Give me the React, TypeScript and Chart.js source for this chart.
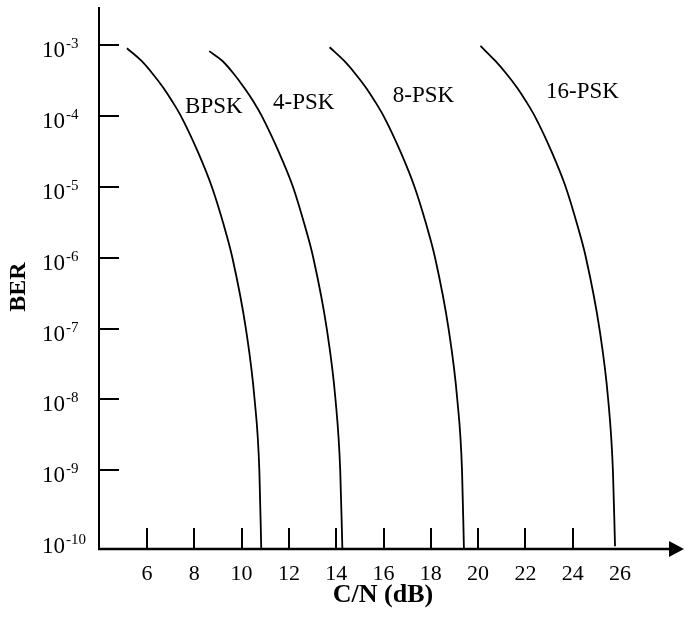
import React, { useEffect, useRef } from 'react';
import { Chart, registerables } from 'chart.js';

Chart.register(...registerables);

// ---- Data ----
const seriesNames = ['BPSK', '4-PSK', '8-PSK', '16-PSK'];

const bpskCN = [5.15, 5.76, 6.22, 6.69, 7.07, 7.43, 8.17, 8.74, 9.23, 9.61, 10.18, 10.55, 10.75, 10.83];
const bpskBER = [9e-4, 6e-4, 4e-4, 2.5e-4, 1.6e-4, 1e-4, 3e-5, 1e-5, 3e-6, 1e-6, 1e-7, 1e-8, 1e-9, 8e-11];

const psk4CN = [8.63, 9.18, 9.65, 10.11, 10.5, 10.85, 11.59, 12.17, 12.65, 13.03, 13.6, 13.97, 14.17, 14.26];
const psk4BER = [8.2e-4, 6e-4, 4e-4, 2.5e-4, 1.6e-4, 1e-4, 3e-5, 1e-5, 3e-6, 1e-6, 1e-7, 1e-8, 1e-9, 8e-11];

const psk8CN = [13.72, 14.33, 14.79, 15.26, 15.64, 16.0, 16.74, 17.31, 17.8, 18.18, 18.75, 19.12, 19.32, 19.4];
const psk8BER = [9.3e-4, 6e-4, 4e-4, 2.5e-4, 1.6e-4, 1e-4, 3e-5, 1e-5, 3e-6, 1e-6, 1e-7, 1e-8, 1e-9, 8e-11];

const psk16CN = [20.1, 20.72, 21.18, 21.65, 22.03, 22.39, 23.13, 23.7, 24.18, 24.56, 25.13, 25.5, 25.7, 25.79];
const psk16BER = [9.7e-4, 6e-4, 4e-4, 2.5e-4, 1.6e-4, 1e-4, 3e-5, 1e-5, 3e-6, 1e-6, 1e-7, 1e-8, 1e-9, 8.5e-11];

// Series label anchors (C/N, BER) of the text's left baseline
const labelCN = [7.61, 11.33, 16.39, 22.87];
const labelBER = [1.1e-4, 1.25e-4, 1.58e-4, 1.77e-4];

const xTickMarks = [6, 8, 10, 12, 14, 16, 18, 20, 22, 24];
const xTickLabels = [6, 8, 10, 12, 14, 16, 18, 20, 22, 24, 26];
const yTickMarks = [-3, -4, -5, -6, -7, -8, -9];
const yTickLabels = [-3, -4, -5, -6, -7, -8, -9, -10];

const xTitle = 'C/N (dB)';
const yTitle = 'BER';
const xTitleCenter = 15.98;

const X_MIN = 3.97;
const X_MAX = 28.706;
const Y_MIN = 7.78e-11;
const Y_MAX = 3.436e-3;

const FONT = '"Liberation Serif", "Times New Roman", serif';

function zip(xs: number[], ys: number[]) {
  return xs.map((x, i) => ({ x, y: ys[i] }));
}

const axesPlugin = {
  id: 'customAxes',
  afterDraw(chart: any) {
    const ctx: CanvasRenderingContext2D = chart.ctx;
    const xs = chart.scales.x;
    const ys = chart.scales.y;
    const { left, right, top, bottom } = chart.chartArea;
    ctx.save();
    ctx.strokeStyle = '#000';
    ctx.fillStyle = '#000';

    // Axis lines
    ctx.lineWidth = 2;
    ctx.beginPath();
    ctx.moveTo(left, top);
    ctx.lineTo(left, bottom + 1);
    ctx.stroke();
    ctx.lineWidth = 2.5;
    ctx.beginPath();
    ctx.moveTo(left - 1, bottom);
    ctx.lineTo(right - 10, bottom);
    ctx.stroke();
    // Arrow head
    ctx.beginPath();
    ctx.moveTo(right, bottom);
    ctx.lineTo(right - 15, bottom - 8);
    ctx.lineTo(right - 15, bottom + 8);
    ctx.closePath();
    ctx.fill();

    // Tick marks (inside)
    ctx.lineWidth = 2;
    yTickMarks.forEach((e) => {
      const y = Math.round(ys.getPixelForValue(Math.pow(10, e)));
      ctx.beginPath();
      ctx.moveTo(left, y);
      ctx.lineTo(left + 20, y);
      ctx.stroke();
    });
    xTickMarks.forEach((v) => {
      const x = Math.round(xs.getPixelForValue(v));
      ctx.beginPath();
      ctx.moveTo(x, bottom);
      ctx.lineTo(x, bottom - 21);
      ctx.stroke();
    });

    // Y tick labels 10^e
    ctx.textAlign = 'left';
    ctx.textBaseline = 'alphabetic';
    yTickLabels.forEach((e) => {
      const y = ys.getPixelForValue(Math.pow(10, e));
      ctx.font = `23px ${FONT}`;
      ctx.fillText('10', 42, y + 12);
      const w = ctx.measureText('10').width;
      ctx.font = `15px ${FONT}`;
      ctx.fillText(String(e), 42 + w + 1, y + 3);
    });

    // X tick labels
    ctx.font = `22px ${FONT}`;
    ctx.textAlign = 'center';
    xTickLabels.forEach((v) => {
      const x = xs.getPixelForValue(v);
      ctx.fillText(String(v), x, bottom + 31);
    });

    // Axis titles
    ctx.font = `bold 26px ${FONT}`;
    ctx.textAlign = 'center';
    ctx.fillText(xTitle, xs.getPixelForValue(xTitleCenter), bottom + 53);
    ctx.font = `bold 24px ${FONT}`;
    ctx.save();
    ctx.translate(25, (top + bottom) / 2 + 9);
    ctx.rotate(-Math.PI / 2);
    ctx.fillText(yTitle, 0, 0);
    ctx.restore();

    // Series labels
    ctx.font = `23px ${FONT}`;
    ctx.textAlign = 'left';
    seriesNames.forEach((name, i) => {
      const x = xs.getPixelForValue(labelCN[i]);
      const y = ys.getPixelForValue(labelBER[i]);
      ctx.fillText(name, x, y);
    });

    ctx.restore();
  },
};

export default function App() {
  const canvasRef = useRef<HTMLCanvasElement | null>(null);

  useEffect(() => {
    if (!canvasRef.current) return;
    const seriesData = [
      zip(bpskCN, bpskBER),
      zip(psk4CN, psk4BER),
      zip(psk8CN, psk8BER),
      zip(psk16CN, psk16BER),
    ];
    const chart = new Chart(canvasRef.current, {
      type: 'line',
      data: {
        datasets: seriesNames.map((name, i) => ({
          label: name,
          data: seriesData[i],
          borderColor: '#000',
          borderWidth: 1.8,
          pointRadius: 0,
          fill: false,
          cubicInterpolationMode: 'monotone' as const,
        })),
      },
      options: {
        responsive: false,
        animation: false,
        events: [],
        layout: { padding: { left: 99, top: 7, right: 1, bottom: 68 } },
        plugins: {
          legend: { display: false },
          tooltip: { enabled: false },
        },
        scales: {
          x: { type: 'linear', min: X_MIN, max: X_MAX, display: false },
          y: { type: 'logarithmic', min: Y_MIN, max: Y_MAX, display: false },
        },
      },
      plugins: [axesPlugin],
    });
    return () => chart.destroy();
  }, []);

  return (
    <div style={{ position: 'absolute', left: 0, top: 0, width: 685, height: 617, background: '#fff' }}>
      <canvas ref={canvasRef} width={685} height={617} />
    </div>
  );
}
